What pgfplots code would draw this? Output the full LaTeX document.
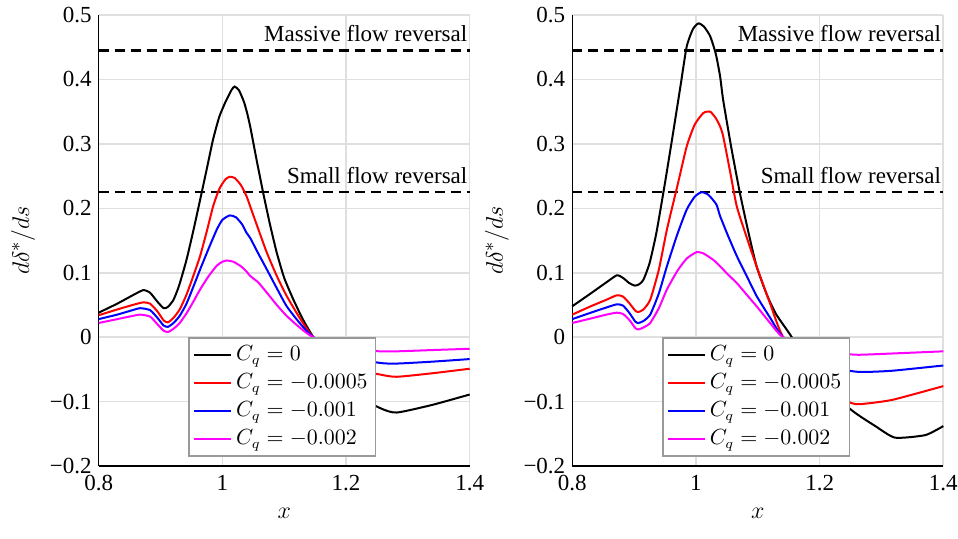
\documentclass[border=0pt]{standalone}
\usepackage{pgfplots}
\pgfplotsset{compat=1.18}
\usepackage{fontspec}
\setmainfont{Liberation Serif}
\definecolor{mag}{RGB}{255,0,255}
\pgfplotsset{panel/.style={
  scale only axis, width=185.5pt, height=225.5pt,
  xmin=0.8, xmax=1.4, ymin=-0.2, ymax=0.5,
  xtick={0.8,1,1.2,1.4}, xticklabels={0.8,1,1.2,1.4},
  ytick={-0.2,-0.1,0,0.1,0.2,0.3,0.4,0.5},
  yticklabels={−0.2,−0.1,0,0.1,0.2,0.3,0.4,0.5},
  grid=major, major grid style={gray!25, line width=0.8pt},
  axis x line*=bottom, axis y line*=left,
  axis line style={line width=0.8pt},
  major tick length=0pt,
  tick label style={font=\fontsize{11.5}{13}\selectfont},
  xticklabel style={yshift=-1pt},
  xlabel={$x$}, ylabel={$d\delta^*/ds$},
  label style={font=\fontsize{12.5}{14}\selectfont},
  xlabel style={yshift=-2pt},
  ylabel shift=0.5pt,
  every axis plot/.append style={line width=1pt, smooth, tension=0.35},
  legend style={at={(axis cs:0.945,0)}, anchor=north west, draw=gray!80, line width=0.8pt,
    font=\fontsize{10.5}{13}\selectfont, fill=white, cells={anchor=west},
    legend image post style={line width=1pt}, inner sep=2pt, row sep=1pt},
  legend image code/.code={\draw[#1] (0cm,0cm) -- (0.65cm,0cm);},
  clip=false,
}}
\tikzset{dl/.style={black, line width=1.3pt, dash pattern=on 5pt off 3pt},
  lab/.style={anchor=south east, inner sep=1pt, font=\fontsize{11.5}{13}\selectfont}}
\begin{document}
\begin{tikzpicture}
\useasboundingbox (-49.35pt,-36pt) rectangle (429.65pt,233pt);
\begin{axis}[panel, at={(0,0)}, anchor=south west]
\addplot[dl, sharp plot, forget plot] coordinates {(0.8,0.445) (1.4,0.445)};
\addplot[dl, sharp plot, forget plot] coordinates {(0.8,0.225) (1.4,0.225)};
\node[lab] at (axis cs:1.4,0.455) {Massive flow reversal};
\node[lab] at (axis cs:1.4,0.235) {Small flow reversal};
\addplot[black] table {
0.800 0.038
0.830 0.052
0.855 0.065
0.872 0.073
0.883 0.069
0.895 0.055
0.905 0.045
0.912 0.047
0.921 0.058
0.930 0.080
0.942 0.120
0.953 0.165
0.964 0.213
0.975 0.262
0.985 0.307
0.995 0.342
1.005 0.365
1.015 0.384
1.020 0.389
1.027 0.383
1.035 0.365
1.040 0.348
1.045 0.327
1.055 0.277
1.066 0.224
1.077 0.175
1.088 0.131
1.100 0.092
1.115 0.058
1.130 0.028
1.147 0.000
1.200 -0.080
1.255 -0.110
1.282 -0.117
1.340 -0.105
1.400 -0.089
};
\addplot[red] table {
0.800 0.034
0.830 0.043
0.855 0.050
0.872 0.054
0.883 0.052
0.895 0.040
0.905 0.026
0.912 0.023
0.921 0.030
0.931 0.043
0.942 0.066
0.953 0.095
0.964 0.126
0.975 0.165
0.985 0.203
0.995 0.230
1.005 0.245
1.012 0.249
1.020 0.247
1.030 0.236
1.039 0.219
1.045 0.203
1.058 0.168
1.072 0.131
1.088 0.095
1.104 0.064
1.125 0.030
1.147 0.000
1.200 -0.045
1.255 -0.058
1.282 -0.0615
1.340 -0.056
1.400 -0.049
};
\addplot[blue] table {
0.800 0.028
0.830 0.035
0.855 0.042
0.867 0.045
0.883 0.042
0.895 0.030
0.905 0.018
0.912 0.016
0.921 0.022
0.931 0.033
0.942 0.052
0.953 0.078
0.964 0.105
0.978 0.138
0.991 0.167
1.000 0.182
1.012 0.189
1.022 0.186
1.032 0.175
1.039 0.162
1.045 0.154
1.058 0.130
1.072 0.105
1.088 0.076
1.104 0.048
1.125 0.022
1.147 0.000
1.200 -0.030
1.255 -0.040
1.282 -0.041
1.340 -0.038
1.400 -0.034
};
\addplot[mag] table {
0.800 0.022
0.830 0.028
0.855 0.033
0.867 0.035
0.883 0.032
0.895 0.020
0.905 0.010
0.912 0.008
0.921 0.013
0.931 0.022
0.942 0.037
0.953 0.055
0.964 0.074
0.978 0.095
0.991 0.111
1.000 0.117
1.007 0.119
1.018 0.117
1.030 0.110
1.039 0.102
1.045 0.095
1.058 0.085
1.072 0.069
1.088 0.050
1.104 0.033
1.125 0.015
1.147 0.000
1.200 -0.018
1.255 -0.022
1.282 -0.022
1.340 -0.020
1.400 -0.018
};
\legend{$C_q = 0$, $C_q = -0.0005$, $C_q = -0.001$, $C_q = -0.002$}
\end{axis}
\begin{axis}[panel, at={(236.8pt,0)}, anchor=south west]
\addplot[dl, sharp plot, forget plot] coordinates {(0.8,0.445) (1.4,0.445)};
\addplot[dl, sharp plot, forget plot] coordinates {(0.8,0.225) (1.4,0.225)};
\node[lab] at (axis cs:1.4,0.455) {Massive flow reversal};
\node[lab] at (axis cs:1.4,0.235) {Small flow reversal};
\addplot[black] table {
0.800 0.048
0.830 0.068
0.855 0.085
0.872 0.096
0.882 0.092
0.892 0.084
0.901 0.080
0.908 0.082
0.915 0.089
0.925 0.115
0.936 0.162
0.950 0.240
0.963 0.317
0.975 0.390
0.985 0.451
0.995 0.478
1.004 0.487
1.013 0.482
1.023 0.467
1.032 0.440
1.039 0.405
1.044 0.368
1.057 0.295
1.071 0.224
1.085 0.162
1.098 0.110
1.115 0.065
1.130 0.035
1.155 0.000
1.200 -0.070
1.254 -0.115
1.290 -0.138
1.322 -0.156
1.371 -0.152
1.400 -0.138
};
\addplot[red] table {
0.800 0.035
0.830 0.048
0.855 0.058
0.872 0.065
0.882 0.063
0.892 0.053
0.902 0.041
0.907 0.039
0.915 0.043
0.926 0.058
0.940 0.105
0.953 0.167
0.970 0.235
0.985 0.296
0.998 0.330
1.012 0.348
1.023 0.350
1.032 0.340
1.039 0.327
1.044 0.312
1.055 0.258
1.066 0.203
1.082 0.155
1.098 0.110
1.120 0.052
1.141 0.000
1.200 -0.080
1.254 -0.103
1.276 -0.103
1.319 -0.097
1.400 -0.076
};
\addplot[blue] table {
0.800 0.028
0.830 0.038
0.855 0.046
0.872 0.051
0.882 0.049
0.892 0.038
0.902 0.024
0.907 0.022
0.915 0.025
0.926 0.035
0.940 0.068
0.953 0.110
0.970 0.160
0.985 0.198
0.998 0.218
1.009 0.225
1.020 0.221
1.033 0.206
1.039 0.188
1.052 0.157
1.066 0.126
1.082 0.095
1.098 0.064
1.120 0.030
1.141 0.000
1.200 -0.042
1.254 -0.053
1.276 -0.054
1.319 -0.052
1.400 -0.044
};
\addplot[mag] table {
0.800 0.022
0.830 0.029
0.855 0.035
0.872 0.038
0.882 0.036
0.892 0.027
0.902 0.014
0.907 0.012
0.915 0.015
0.926 0.022
0.940 0.045
0.953 0.074
0.970 0.103
0.985 0.122
1.001 0.132
1.012 0.130
1.028 0.120
1.039 0.110
1.052 0.097
1.066 0.084
1.082 0.066
1.098 0.048
1.120 0.022
1.141 0.000
1.200 -0.022
1.254 -0.027
1.276 -0.027
1.400 -0.022
};
\legend{$C_q = 0$, $C_q = -0.0005$, $C_q = -0.001$, $C_q = -0.002$}
\end{axis}
\end{tikzpicture}
\end{document}
